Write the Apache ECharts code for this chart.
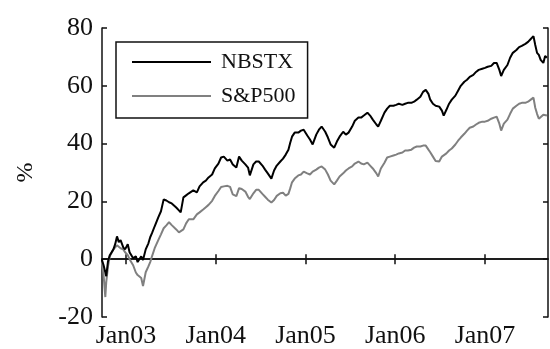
<!DOCTYPE html>
<html>
<head>
<meta charset="utf-8">
<script src="https://cdn.jsdelivr.net/npm/echarts@6/dist/echarts.min.js"></script>
<style>html,body{margin:0;padding:0;background:#fff}#c{width:550px;height:349px}</style>
</head>
<body>
<div id="c"></div>
<script>
// time in decimal years
const years = [2002.73,2002.75,2002.77,2002.78,2002.80,2002.82,2002.86,2002.88,2002.90,2002.92,2002.94,2002.97,2002.99,
2003.02,2003.04,2003.08,2003.11,2003.13,2003.17,2003.19,2003.22,2003.25,2003.27,2003.29,2003.32,2003.36,2003.39,2003.42,2003.45,2003.48,2003.51,2003.56,2003.59,2003.61,2003.64,2003.67,2003.70,2003.75,2003.79,2003.82,2003.86,2003.89,2003.92,2003.96,2003.99,
2004.03,2004.06,2004.09,2004.13,2004.16,2004.19,2004.23,2004.26,2004.29,2004.33,2004.36,2004.38,2004.42,2004.45,2004.48,2004.52,2004.55,2004.58,2004.62,2004.65,2004.68,2004.72,2004.75,2004.78,2004.81,2004.83,2004.85,2004.88,2004.92,2004.95,2004.98,
2005.02,2005.05,2005.08,2005.12,2005.15,2005.18,2005.22,2005.25,2005.28,2005.32,2005.35,2005.38,2005.42,2005.45,2005.48,2005.52,2005.55,2005.59,2005.62,2005.65,2005.69,2005.72,2005.75,2005.79,2005.81,2005.84,2005.88,2005.91,2005.94,2005.98,
2006.01,2006.04,2006.08,2006.11,2006.14,2006.18,2006.21,2006.24,2006.28,2006.31,2006.34,2006.37,2006.39,2006.42,2006.45,2006.49,2006.52,2006.54,2006.57,2006.60,2006.63,2006.67,2006.70,2006.73,2006.77,2006.80,2006.83,2006.87,2006.90,2006.93,2006.97,
2007.00,2007.03,2007.07,2007.10,2007.13,2007.16,2007.18,2007.21,2007.25,2007.28,2007.31,2007.35,2007.38,2007.41,2007.45,2007.48,2007.51,2007.54,2007.56,2007.58,2007.60,2007.62,2007.65,2007.67,2007.69];

const nbstx = [0,-2,-4.5,-5.9,-0.7,1.4,3.4,5.2,7.9,5.9,6.6,4.1,3.4,
5.2,2.4,0.3,1.0,-1.0,1.0,-0.3,3.4,5.5,7.6,9.0,11.4,14.5,16.6,20.7,20.3,19.7,19.3,17.9,16.9,16.2,21.4,22.1,22.8,23.8,23.1,25.2,26.6,27.2,28.3,29.3,31.4,
33.1,35.2,35.5,34.1,34.5,32.8,31.7,35.5,34.1,32.8,31.7,29.0,32.8,33.8,33.8,32.4,31.0,29.7,27.9,30.7,32.4,33.8,34.8,36.2,37.9,40.3,42.4,43.8,43.8,44.5,44.8,
42.8,41.4,39.7,43.1,44.8,45.9,44.1,42.1,39.7,38.6,40.7,42.4,44.1,43.1,43.8,45.9,47.9,49.0,49.0,49.7,50.7,49.7,48.3,46.6,45.9,47.9,50.7,52.1,53.1,53.1,
53.4,53.8,53.4,53.8,54.1,54.1,54.5,55.2,56.2,57.9,58.6,57.2,55.2,53.8,53.1,52.8,51.4,49.7,51.7,53.8,55.2,56.6,58.3,60.0,61.4,62.1,63.1,63.8,64.8,65.5,65.9,
66.2,66.6,66.9,67.9,67.9,65.5,63.4,65.5,67.2,69.7,71.4,72.4,73.4,73.8,74.5,75.2,76.2,77.2,74.1,71.4,70.7,69.0,67.9,70.3,69.7];

const sp500 = [-1.0,-5.2,-13.1,-8,-2.5,1.0,3.4,4.1,4.8,5.2,3.8,3.4,2.4,
1.4,0,-2.1,-4.6,-5.5,-6.5,-9.3,-4.5,-2.5,-1.0,1.0,3.8,6.6,8.6,10.7,11.7,12.8,11.8,10.3,9.3,9.0,10.3,12.4,13.8,13.8,15.5,16.2,17.2,18.0,18.8,20.2,21.9,
23.6,25.0,25.2,25.4,25.0,22.4,21.8,24.6,24.3,23.4,21.6,20.8,22.8,24.0,24.0,22.6,21.6,20.6,19.6,20.5,21.9,22.8,23.0,22.0,22.6,24.5,26.6,27.9,29.0,29.3,30.3,
29.7,29.3,30.3,31.0,31.7,32.1,31.0,29.3,27.2,25.9,27.2,28.6,29.7,30.7,31.4,32.1,33.1,33.8,33.1,32.8,33.4,32.4,31.4,29.7,28.6,31.4,33.4,35.2,35.5,35.9,
36.2,36.6,36.9,37.6,37.6,37.9,38.6,39.0,39.0,39.3,39.3,37.9,37.0,35.5,34.0,33.8,35.5,35.9,36.6,37.6,38.3,39.7,41.0,42.1,43.4,44.5,45.5,45.9,46.6,47.2,47.6,
47.6,47.9,48.6,49.0,49.3,46.9,44.5,46.9,48.3,50.3,52.1,53.1,53.8,54.1,54.1,54.5,55.2,55.9,52.4,50.3,48.6,49.0,50.0,50.3,49.7];

const xTicks = [2003, 2004, 2005, 2006, 2007];
const seriesNames = ['NBSTX', 'S&P500'];

const n = Math.min(years.length, nbstx.length, sp500.length);
const d1 = [], d2 = [];
for (let i = 0; i < n; i++) { d1.push([years[i], nbstx[i]]); d2.push([years[i], sp500[i]]); }

const serif = 'Liberation Serif';
const axisLine = { show: true, lineStyle: { color: '#111', width: 1.5 } };
const tick = (vals) => ({ show: true, inside: true, length: 5, lineStyle: { color: '#111', width: 1.5 }, customValues: vals });

const chart = echarts.init(document.getElementById('c'), null, { renderer: 'canvas' });
chart.setOption({
  animation: false,
  backgroundColor: '#fff',
  grid: { left: 102, top: 28, right: 2, bottom: 31, containLabel: false },
  legend: {
    orient: 'vertical',
    left: 116, top: 42,
    padding: [9, 12, 11, 16],
    itemGap: 12,
    itemWidth: 79, itemHeight: 2,
    icon: 'rect',
    backgroundColor: '#fff',
    borderColor: '#111', borderWidth: 1.5,
    textStyle: { fontFamily: serif, fontSize: 22, color: '#111', padding: [0, 0, 0, 5] },
    data: seriesNames
  },
  xAxis: [
    { type: 'value', min: 2002.733, max: 2007.702, position: 'bottom',
      axisLine: axisLine, axisTick: tick(xTicks), splitLine: { show: false },
      axisLabel: { customValues: xTicks, fontFamily: serif, fontSize: 26, color: '#111', margin: 6,
        formatter: v => 'Jan' + String(Math.round(v)).slice(2) } },
    { type: 'value', min: 2002.733, max: 2007.702, position: 'top',
      axisLine: axisLine, axisTick: tick(xTicks), splitLine: { show: false },
      axisLabel: { show: false } }
  ],
  yAxis: [
    { type: 'value', min: -20, max: 80, interval: 20, position: 'left',
      name: '%', nameLocation: 'middle', nameGap: 64, nameRotate: 90,
      nameTextStyle: { fontFamily: serif, fontSize: 24, color: '#111' },
      axisLine: axisLine, axisTick: { show: true, inside: true, length: 5, lineStyle: { color: '#111', width: 1.5 } },
      splitLine: { show: false },
      axisLabel: { fontFamily: serif, fontSize: 26, color: '#111', margin: 9 } },
    { type: 'value', min: -20, max: 80, interval: 20, position: 'right',
      axisLine: axisLine, axisTick: { show: true, inside: true, length: 5, lineStyle: { color: '#111', width: 1.5 } },
      splitLine: { show: false }, axisLabel: { show: false } }
  ],
  series: [
    { name: seriesNames[0], type: 'line', data: d1, showSymbol: false, symbol: 'none',
      lineStyle: { color: '#000', width: 2 }, itemStyle: { color: '#000' }, z: 3 },
    { name: seriesNames[1], type: 'line', data: d2, showSymbol: false, symbol: 'none',
      lineStyle: { color: '#808080', width: 2 }, itemStyle: { color: '#808080' }, z: 2 }
  ]
});
</script>
</body>
</html>
